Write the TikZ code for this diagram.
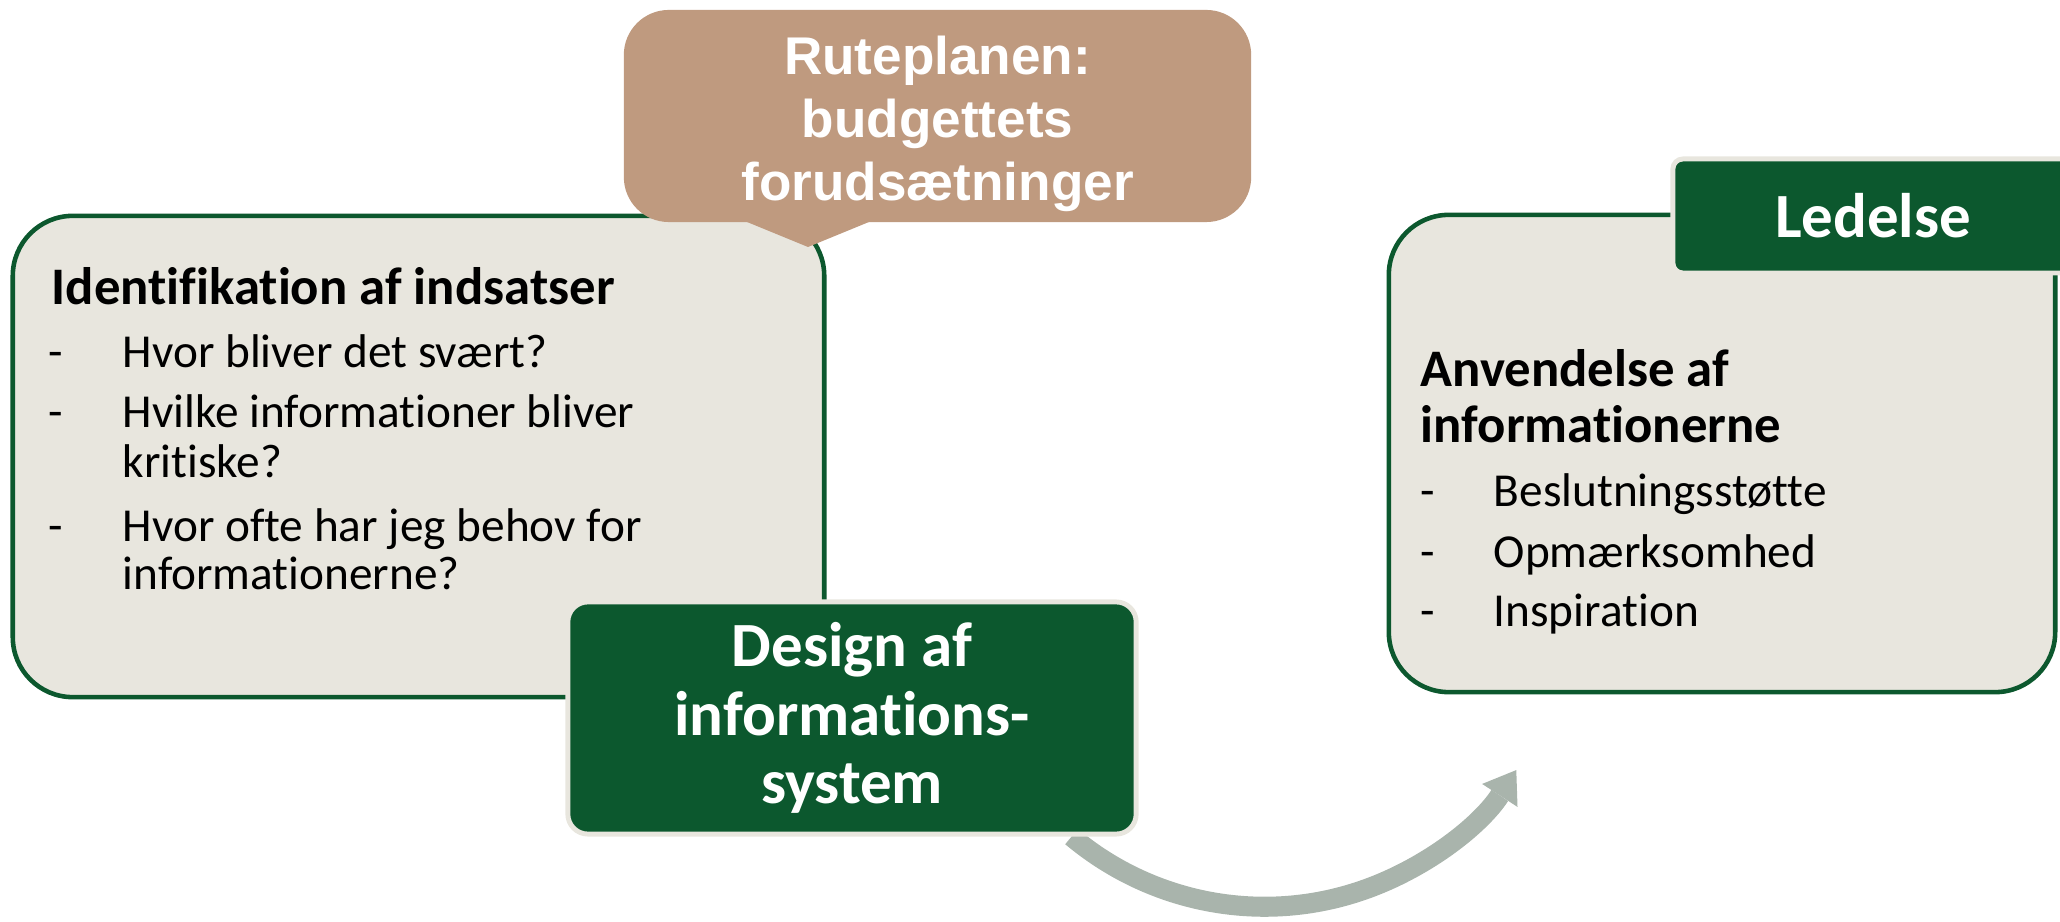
\documentclass[tikz,border=0pt]{standalone}
\usepackage{fontspec}
\setmainfont{Carlito}[Ligatures=NoCommon]
\newfontfamily\arialfont{Liberation Sans}
\usetikzlibrary{arrows.meta,backgrounds}

\definecolor{darkgreen}{RGB}{12,88,46}
\definecolor{boxgrey}{RGB}{232,230,222}
\definecolor{routebrown}{RGB}{191,154,127}
\definecolor{arrowgrey}{RGB}{169,180,172}

\begin{document}
\begin{tikzpicture}[x=0.01cm, y=-0.01cm,
    infobox/.style={draw=darkgreen, line width=1.3pt, fill=boxgrey, rounded corners=0.6cm, inner sep=0pt},
    greenbox/.style={draw=boxgrey, line width=1.4pt, fill=darkgreen, text=white, rounded corners=0.2cm,
        inner sep=0pt, align=center, font=\bfseries\fontsize{17.9}{19.5}\selectfont},
    headline/.style={anchor=base west, inner sep=0pt, font=\bfseries\fontsize{15}{18}\selectfont},
    itemline/.style={anchor=base west, inner sep=0pt, font=\fontsize{13.45}{16}\selectfont},
    cyclearrow/.style={draw=arrowgrey, line width=5.7pt, -{Triangle[length=8.6pt,width=12pt,line width=0pt]}}]

    \useasboundingbox (0,0) rectangle (2060,922);

    % left box
    \node[infobox, minimum width=8.11cm, minimum height=4.81cm] (ident) at (418.5,456.5) {};
    \node[headline] (identtitle) at (51,305) {Identifikation af indsatser};
    \node[itemline] (dashA) at (48,368) {-};
    \node[itemline] (itemA) at (122,368) {Hvor bliver det svært?};
    \node[itemline] (dashB) at (48,428) {-};
    \node[itemline] (itemB) at (122,428) {Hvilke informationer bliver};
    \node[itemline] (itemBb) at (122,478) {kritiske?};
    \node[itemline] (dashC) at (48,542) {-};
    \node[itemline] (itemC) at (122,542) {Hvor ofte har jeg behov for};
    \node[itemline] (itemCb) at (122,590) {informationerne?};

    % callout on top
    \fill[routebrown] (730,215) -- (808,247) -- (886,215) -- cycle;
    \node[fill=routebrown, rounded corners=0.45cm, minimum width=6.27cm, minimum height=2.12cm] (route) at (937.5,116) {};
    \node[text=white, inner sep=0pt, align=center, font=\arialfont\bfseries\fontsize{15.1}{17.9}\selectfont]
        (routetext) at (937.5,124) {Ruteplanen:\\budgettets\\forudsætninger};

    % right box
    \node[infobox, minimum width=6.66cm, minimum height=4.77cm] (usage) at (1722,453.5) {};
    \node[greenbox, minimum width=4cm, minimum height=1.14cm, rounded corners=0.1cm] (ledelse) at (1873,216) {Ledelse};
    \node[headline] (usagetitle) at (1420,387) {Anvendelse af};
    \node[headline] (usagetitleb) at (1420,443) {informationerne};
    \node[itemline] (dashD) at (1420,507) {-};
    \node[itemline] (itemD) at (1493,507) {Beslutningsstøtte};
    \node[itemline] (dashE) at (1420,568) {-};
    \node[itemline] (itemE) at (1493,568) {Opmærksomhed};
    \node[itemline] (dashF) at (1420,627) {-};
    \node[itemline] (itemF) at (1493,627) {Inspiration};

    % middle box
    \node[greenbox, minimum width=5.68cm, minimum height=2.32cm] (design) at (852,718)
        {Design af\\informations-\\system};

    \begin{pgfonlayer}{background}
        \draw[cyclearrow] ([xshift=-0.67cm]design.south east) arc[start angle=-130, end angle=-33, radius=3cm];
    \end{pgfonlayer}

\end{tikzpicture}
\end{document}
